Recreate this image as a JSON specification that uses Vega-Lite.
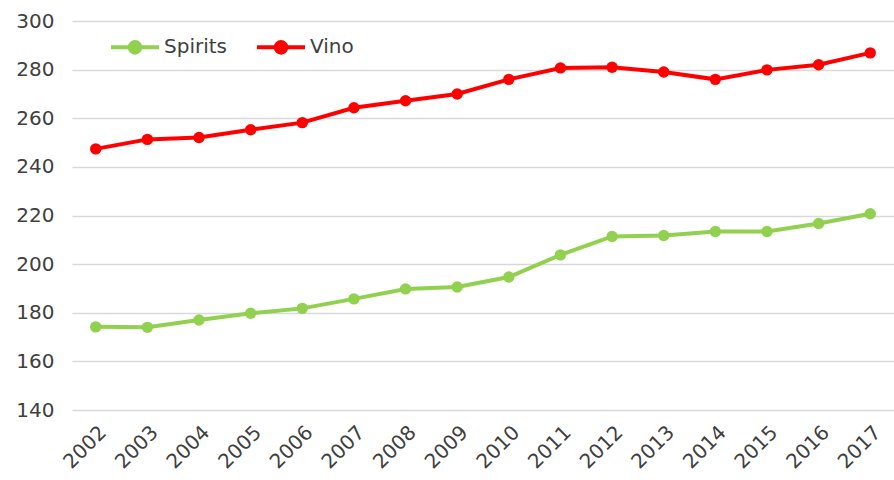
{
  "$schema": "https://vega.github.io/schema/vega-lite/v6.json",
  "autosize": {"type": "none"},
  "padding": {"left": 72, "top": 21, "right": 0, "bottom": 70},
  "width": 822,
  "height": 389,
  "background": "white",
  "config": {
    "view": {"stroke": null},
    "font": "DejaVu Sans",
    "axis": {"labelFont": "DejaVu Sans", "labelFontSize": 20, "labelColor": "#404040", "domain": false, "ticks": false},
    "legend": {"labelFont": "DejaVu Sans", "labelFontSize": 20, "labelColor": "#404040"}
  },
  "data": {
    "values": [
      {"year": "2002", "series": "Spirits", "value": 174.2},
      {"year": "2003", "series": "Spirits", "value": 174.0},
      {"year": "2004", "series": "Spirits", "value": 177.0},
      {"year": "2005", "series": "Spirits", "value": 179.8},
      {"year": "2006", "series": "Spirits", "value": 181.8},
      {"year": "2007", "series": "Spirits", "value": 185.7},
      {"year": "2008", "series": "Spirits", "value": 189.8},
      {"year": "2009", "series": "Spirits", "value": 190.6},
      {"year": "2010", "series": "Spirits", "value": 194.7},
      {"year": "2011", "series": "Spirits", "value": 203.8},
      {"year": "2012", "series": "Spirits", "value": 211.4},
      {"year": "2013", "series": "Spirits", "value": 211.8},
      {"year": "2014", "series": "Spirits", "value": 213.4},
      {"year": "2015", "series": "Spirits", "value": 213.4},
      {"year": "2016", "series": "Spirits", "value": 216.7},
      {"year": "2017", "series": "Spirits", "value": 220.7},
      {"year": "2002", "series": "Vino", "value": 247.4},
      {"year": "2003", "series": "Vino", "value": 251.3},
      {"year": "2004", "series": "Vino", "value": 252.1},
      {"year": "2005", "series": "Vino", "value": 255.3},
      {"year": "2006", "series": "Vino", "value": 258.2},
      {"year": "2007", "series": "Vino", "value": 264.3},
      {"year": "2008", "series": "Vino", "value": 267.2},
      {"year": "2009", "series": "Vino", "value": 270.0},
      {"year": "2010", "series": "Vino", "value": 276.0},
      {"year": "2011", "series": "Vino", "value": 280.7},
      {"year": "2012", "series": "Vino", "value": 281.0},
      {"year": "2013", "series": "Vino", "value": 279.0},
      {"year": "2014", "series": "Vino", "value": 276.0},
      {"year": "2015", "series": "Vino", "value": 279.9},
      {"year": "2016", "series": "Vino", "value": 282.0},
      {"year": "2017", "series": "Vino", "value": 286.9}
    ]
  },
  "encoding": {
    "x": {
      "field": "year", "type": "ordinal",
      "scale": {"type": "point", "padding": 0.46},
      "axis": {"title": null, "labelAngle": -45, "labelPadding": 12, "grid": false}
    },
    "y": {
      "field": "value", "type": "quantitative",
      "scale": {"domain": [140, 300], "nice": false, "zero": false},
      "axis": {"title": null, "values": [140, 160, 180, 200, 220, 240, 260, 280, 300], "grid": true, "gridColor": "#d9d9d9", "gridWidth": 1.5, "labelPadding": 18}
    },
    "color": {
      "field": "series", "type": "nominal",
      "scale": {"domain": ["Spirits", "Vino"], "range": ["#92D050", "#FF0000"]},
      "legend": {
        "title": null, "orient": "none", "legendX": 37, "legendY": 0,
        "direction": "horizontal", "columnPadding": 22, "labelOffset": 3,
        "symbolType": "M-1,0L1,0M-0.22,0A0.22,0.22 0 1,1 0.22,0A0.22,0.22 0 1,1 -0.22,0Z",
        "symbolSize": 2304, "symbolStrokeWidth": 4,
        "encode": {"symbols": {"update": {"fill": {"scale": "color", "field": "value"}, "stroke": {"scale": "color", "field": "value"}, "strokeWidth": {"value": 4}, "opacity": {"value": 1}}}}
      }
    }
  },
  "layer": [
    {"mark": {"type": "line", "strokeWidth": 4}},
    {"mark": {"type": "point", "filled": true, "size": 130, "opacity": 1}}
  ]
}
